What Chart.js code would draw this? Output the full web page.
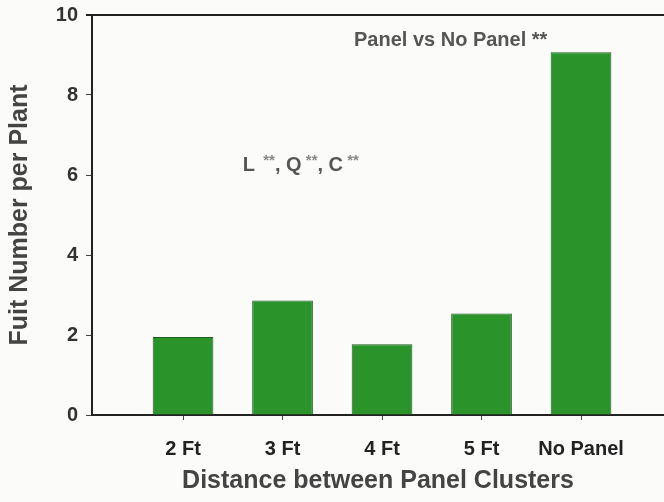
<!DOCTYPE html>
<html>
<head>
<meta charset="utf-8">
<script src="https://cdn.jsdelivr.net/npm/chart.js@4/dist/chart.umd.min.js"></script>
<style>
  html, body { margin: 0; padding: 0; background: #fbfbfa; }
  #wrap { width: 664px; height: 502px; }
</style>
</head>
<body>
<div id="wrap"><canvas id="fruitChart" width="664" height="502"></canvas></div>
<script>
var categories = ["2 Ft", "3 Ft", "4 Ft", "5 Ft", "No Panel"];
var fruitNumber = [1.95, 2.86, 1.77, 2.54, 9.07];
var yTicks = [0, 2, 4, 6, 8, 10];

var points = fruitNumber.map(function (v, i) { return { x: i, y: v }; });
var FONT = '"Liberation Sans", Arial, sans-serif';

// top border line + the two text notes
var extras = {
    id: 'extras',
    afterDraw: function (chart) {
        var ctx = chart.ctx;
        var a = chart.chartArea;
        var xs = chart.scales.x, ys = chart.scales.y;
        ctx.save();
        ctx.strokeStyle = '#222';
        ctx.lineWidth = 2;
        ctx.beginPath();
        ctx.moveTo(a.left - 6, a.top);
        ctx.lineTo(a.right, a.top);
        ctx.stroke();

        ctx.fillStyle = '#555';
        ctx.textBaseline = 'middle';
        ctx.textAlign = 'center';
        ctx.font = 'bold 20px ' + FONT;
        ctx.fillText('Panel vs No Panel **', xs.getPixelForValue(2.69), ys.getPixelForValue(9.37));

        // L **, Q **, C **  with small stars
        var parts = [['L', 20, 0], ['  **', 15, -4], [', Q', 20, 0], [' **', 15, -4], [', C', 20, 0], [' **', 15, -4]];
        var px = xs.getPixelForValue(0.6), py = ys.getPixelForValue(6.25);
        ctx.textAlign = 'left';
        parts.forEach(function (p) {
            ctx.font = 'bold ' + p[1] + 'px ' + FONT;
            ctx.fillStyle = p[1] < 20 ? '#888' : '#555';
            ctx.fillText(p[0], px, py + p[2]);
            px += ctx.measureText(p[0]).width;
        });
        ctx.restore();
    }
};

var chart = new Chart(document.getElementById('fruitChart'), {
    type: 'bar',
    data: {
        datasets: [{
            data: points,
            backgroundColor: '#2a942a',
            borderColor: '#1f5a22',
            borderWidth: 1,
            categoryPercentage: 1,
            barPercentage: 0.61
        }]
    },
    options: {
        responsive: false,
        animation: false,
        layout: { padding: { top: 15, right: 0, left: 0, bottom: 0 } },
        plugins: { legend: { display: false }, tooltip: { enabled: false } },
        scales: {
            x: {
                type: 'linear',
                offset: false,
                min: -0.915,
                max: 4.834,
                afterFit: function (s) { s.height = 87; },
                afterBuildTicks: function (s) {
                    s.ticks = categories.map(function (c, i) { return { value: i }; });
                },
                ticks: {
                    autoSkip: false,
                    maxRotation: 0,
                    padding: 17,
                    color: '#222',
                    font: { family: FONT, size: 20, weight: 'bold' },
                    callback: function (v) { return categories[v]; }
                },
                grid: { offset: false, drawOnChartArea: false, drawTicks: true, tickLength: 5, color: '#444' },
                border: { display: true, color: '#222', width: 2 },
                title: {
                    display: true,
                    text: 'Distance between Panel Clusters',
                    color: '#444',
                    font: { family: FONT, size: 25, weight: 'bold' },
                    padding: { top: 0, bottom: 6 }
                }
            },
            y: {
                min: 0,
                max: 10,
                afterFit: function (s) {
                    s.width = 92;
                    s.paddingTop = 0;
                    s.paddingBottom = 0;
                },
                afterBuildTicks: function (s) {
                    s.ticks = yTicks.map(function (v) { return { value: v }; });
                },
                ticks: {
                    padding: 8,
                    color: '#333',
                    font: { family: FONT, size: 20, weight: 'bold' }
                },
                grid: { drawOnChartArea: false, drawTicks: true, tickLength: 6, color: '#444' },
                border: { display: true, color: '#222', width: 2 },
                title: {
                    display: true,
                    text: 'Fuit Number per Plant',
                    color: '#444',
                    font: { family: FONT, size: 25, weight: 'bold' },
                    padding: { top: 5, bottom: 0 }
                }
            }
        }
    },
    plugins: [extras]
});
</script>
</body>
</html>
